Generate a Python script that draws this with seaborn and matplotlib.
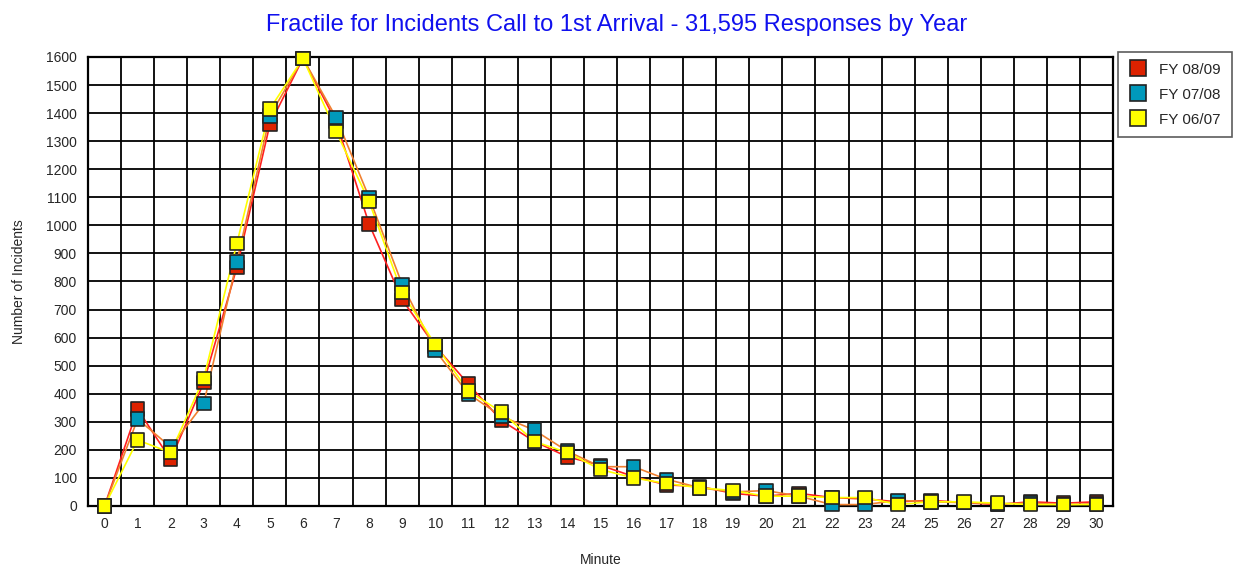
import pandas as pd
import numpy as np
import matplotlib.pyplot as plt
import seaborn as sns
from matplotlib.ticker import MultipleLocator

sns.set_style('white')
plt.rcParams['font.family'] = ['Liberation Sans', 'DejaVu Sans']

minutes = list(range(31))
fy0809 = [0, 345, 165, 440, 850, 1360, 1595, 1370, 1005, 735, 570, 435, 305, 230, 175,
          145, 105, 75, 70, 45, 35, 45, 30, 25, 15, 20, 12, 5, 15, 10, 15]
fy0708 = [0, 310, 210, 365, 870, 1390, 1595, 1385, 1100, 790, 555, 400, 320, 270, 195,
          140, 140, 95, 65, 50, 55, 35, 5, 5, 20, 15, 12, 8, 10, 5, 8]
fy0607 = [0, 235, 190, 455, 935, 1415, 1595, 1335, 1085, 760, 575, 410, 335, 230, 190,
          130, 100, 80, 65, 55, 35, 35, 30, 30, 5, 15, 15, 10, 5, 5, 5]
series = ['FY 08/09', 'FY 07/08', 'FY 06/07']

df = pd.DataFrame({
    'Minute': minutes * 3,
    'Incidents': fy0809 + fy0708 + fy0607,
    'Year': [s for s in series for _ in minutes],
})

line_colors = {'FY 08/09': '#ff2020', 'FY 07/08': '#f08030', 'FY 06/07': '#ffff00'}
marker_colors = {'FY 08/09': '#dd2200', 'FY 07/08': '#0099bb', 'FY 06/07': '#ffff00'}

fig = plt.figure(figsize=(12.33, 5.67), dpi=100)
ax = fig.add_axes([0.0714, 0.1076, 0.8313, 0.7919])

sns.lineplot(data=df, x='Minute', y='Incidents', hue='Year', palette=line_colors,
             hue_order=series, linewidth=1.2, legend=False, ax=ax, zorder=3)
sns.scatterplot(data=df, x='Minute', y='Incidents', hue='Year', palette=marker_colors,
                hue_order=series, marker='s', s=95, edgecolor='#222222', linewidth=1.2,
                ax=ax, zorder=4, clip_on=False)

ax.set_xlim(-0.5, 30.5)
ax.set_ylim(0, 1600)
ax.xaxis.set_major_locator(MultipleLocator(1))
ax.xaxis.set_minor_locator(MultipleLocator(1, offset=0.5))
ax.yaxis.set_major_locator(MultipleLocator(100))
ax.grid(False)
ax.grid(True, which='minor', axis='x', color='black', linewidth=1.3)
ax.grid(True, which='major', axis='y', color='black', linewidth=1.3)
ax.set_axisbelow(True)
ax.tick_params(axis='both', which='both', length=0, labelsize=10, pad=8)
for sp in ax.spines.values():
    sp.set_color('black')
    sp.set_linewidth(1.6)

ax.set_xlabel('Minute', fontsize=10, labelpad=16)
ax.set_ylabel('Number of Incidents', fontsize=10, labelpad=14)
fig.suptitle('Fractile for Incidents Call to 1st Arrival - 31,595 Responses by Year',
             color='#1010ee', fontsize=17, y=0.975)

leg = ax.legend(loc='upper left', bbox_to_anchor=(1.005, 1.011), borderaxespad=0,
                frameon=True, fancybox=False, edgecolor='#333333', fontsize=11,
                handletextpad=0.8, handlelength=1.2, borderpad=0.7, labelspacing=0.72,
                markerscale=1.15)
leg.get_frame().set_linewidth(1.2)

fig.savefig('out.png', dpi=100)
